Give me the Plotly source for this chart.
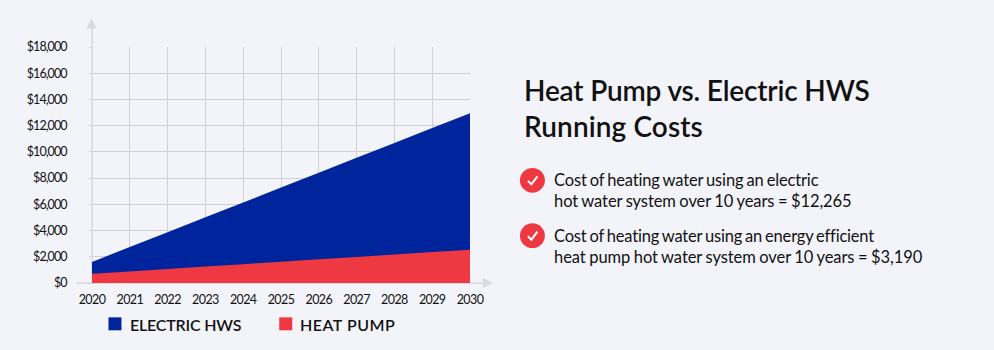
import plotly.graph_objects as go

years = [2020, 2021, 2022, 2023, 2024, 2025, 2026, 2027, 2028, 2029, 2030]
electric_hws = [1610, 2744, 3878, 5012, 6146, 7280, 8414, 9548, 10682, 11816, 12950]
heat_pump = [700, 885, 1069, 1254, 1438, 1623, 1807, 1991, 2176, 2360, 2545]
y_ticks = [0, 2000, 4000, 6000, 8000, 10000, 12000, 14000, 16000, 18000]
y_labels = ["$0", "$2,000", "$4,000", "$6,000", "$8,000", "$10,000", "$12,000", "$14,000", "$16,000", "$18,000"]
title_lines = ["Heat Pump vs. Electric HWS", "Running Costs"]
note_lines = [
    ["Cost of heating water using an electric", "hot water system over 10 years = $12,265"],
    ["Cost of heating water using an energy efficient", "heat pump hot water system over 10 years = $3,190"],
]
legend_names = ["ELECTRIC HWS", "HEAT PUMP"]

W, H = 994, 350
L, R, T, B = 91.5, 470, 46.5, 283.5
BG, BLUE, RED, GRID, ARROW = "#f3f4fa", "#00249c", "#ee3842", "#d0d0d4", "#dadadc"
INK = "#111111"
FONT = "Lato"

def px(x):
    return (x - L) / (R - L)

def py(y):
    return (B - y) / (B - T)

def tracked(s, letter, word=0):
    return f'<span style="letter-spacing:{letter}px;word-spacing:{word}px">{s}</span>'

fig = go.Figure()
fig.add_trace(go.Scatter(x=years, y=electric_hws, mode="none", fill="tozeroy", fillcolor=BLUE,
                         name=legend_names[0], showlegend=False))
fig.add_trace(go.Scatter(x=years, y=heat_pump, mode="none", fill="tozeroy", fillcolor=RED,
                         name=legend_names[1], showlegend=False))

shapes = []
def rect(x0, y0, x1, y1, color, layer="above"):
    shapes.append(dict(type="rect", xref="paper", yref="paper", x0=px(x0), x1=px(x1), y0=py(y0), y1=py(y1),
                       fillcolor=color, line_width=0, layer=layer))

def poly(points, color, layer="above"):
    d = "M" + " L".join(f"{px(a):.5f},{py(b):.5f}" for a, b in points) + " Z"
    shapes.append(dict(type="path", xref="paper", yref="paper", path=d, fillcolor=color, line_width=0, layer=layer))

# axis arrows
rect(91, 27, 92.2, 283.5, GRID, "below")
poly([(91, 18), (86, 28), (96, 28)], ARROW)
rect(76, 283, 484, 284.2, GRID, "below")
poly([(493, 283.5), (483, 278.5), (483, 288.5)], ARROW)

# legend swatches
rect(108, 318, 121, 331, BLUE)
rect(279, 318, 292, 331, RED)

annotations = []
def text(x, y, s, size, weight=400, color=INK):
    annotations.append(dict(xref="paper", yref="paper", x=px(x), y=py(y), text=s, showarrow=False,
                            xanchor="left", yanchor="middle",
                            font=dict(family=FONT, size=size, color=color, weight=weight),
                            borderpad=0, borderwidth=0, align="left"))

text(130, 325, tracked(legend_names[0], -0.2), 16, 600)
text(300, 325, tracked(legend_names[1], 0.5), 16, 600)
text(524, 90, tracked(title_lines[0], -0.17), 28, 600)
text(524, 126, tracked(title_lines[1], 0.1), 28, 600)

spacing = [[(-0.15, -1), (-0.08, -0.6)], [(-0.2, -1), (-0.07, -0.6)]]
for (cy, lines, sp) in zip([180.4, 236], note_lines, spacing):
    shapes.append(dict(type="circle", xref="paper", yref="paper", x0=px(520), x1=px(545), y0=py(cy + 12.4), y1=py(cy - 12.4),
                       fillcolor=RED, line_width=0))
    check = f"M{px(528):.5f},{py(cy + 0.5):.5f} L{px(531.5):.5f},{py(cy + 4):.5f} L{px(537.5):.5f},{py(cy - 4):.5f}"
    shapes.append(dict(type="path", xref="paper", yref="paper", path=check, line=dict(color="white", width=2)))
    text(554, cy, tracked(lines[0], *sp[0]), 16.5)
    text(554, cy + 21, tracked(lines[1], *sp[1]), 16.5)

fig.update_layout(
    width=W, height=H, autosize=False,
    paper_bgcolor=BG, plot_bgcolor=BG,
    margin=dict(l=L, r=W - R, t=T, b=H - B, pad=0),
    showlegend=False,
    shapes=shapes, annotations=annotations,
    font=dict(family=FONT, size=12, color=INK),
    xaxis=dict(range=[2020, 2030], tickmode="array", tickvals=years,
               ticktext=[tracked(str(v), -0.6) for v in years],
               showgrid=True, gridcolor=GRID, gridwidth=1, zeroline=False, showline=False, ticks="",
               ticklabelstandoff=7, tickfont=dict(size=12.5)),
    yaxis=dict(range=[0, 18000], tickmode="array", tickvals=y_ticks,
               ticktext=[tracked(s, -0.95) for s in y_labels],
               showgrid=True, gridcolor=GRID, gridwidth=1, zeroline=False, showline=False,
               ticks="outside", ticklen=2, tickcolor=GRID, ticklabelstandoff=20, tickfont=dict(size=12.5)),
)
fig.write_html("out.html", config={"displayModeBar": False},
               post_script="document.body.style.margin='0';document.body.style.background='%s';" % BG)
